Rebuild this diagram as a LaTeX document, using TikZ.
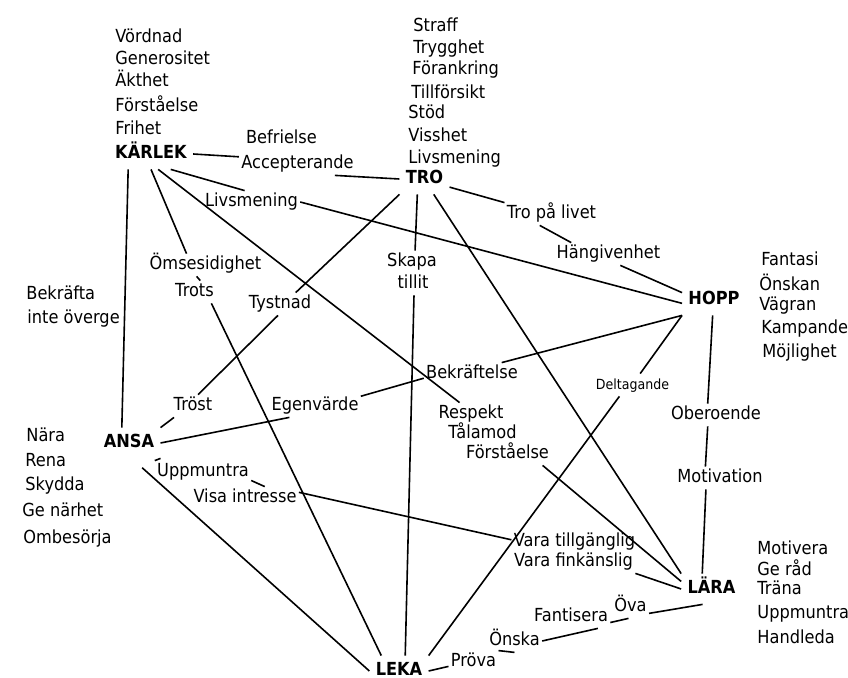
\documentclass[tikz,border=0pt]{standalone}
\usepackage{fontspec}
\setmainfont[FakeStretch=0.9]{DejaVu Sans}
\tikzset{
  ord/.style={font=\fontsize{9}{11}\selectfont, inner sep=1pt, text height=7pt, text depth=2pt},
  liten/.style={ord, font=\fontsize{7}{9}\selectfont},
  huvud/.style={ord, font=\fontsize{9}{11}\selectfont\bfseries, inner sep=3pt},
  band/.style={line width=0.8pt}
}
\begin{document}
\begin{tikzpicture}[x=0.5pt, y=-0.5pt]
  \useasboundingbox (0,0) rectangle (848,678);

  % Main words
  \node[huvud] (karlek) at (151,154) {KÄRLEK};
  \node[huvud] (tro) at (424.5,179) {TRO};
  \node[huvud] (hopp) at (714,300) {HOPP};
  \node[huvud] (ansa) at (129,443) {ANSA};
  \node[huvud] (leka) at (399,671) {LEKA};
  \node[huvud] (lara) at (711.5,589) {LÄRA};

  % Word lists next to the main words
  \foreach \x/\y/\txt [count=\i] in {113/38/Vördnad, 113/60/Generositet, 113/82/Äkthet,
      113/107/Förståelse, 113/130/Frihet}
    \node[ord, anchor=west] (karlek\i) at (\x,\y) {\txt};
  \foreach \x/\y/\txt [count=\i] in {411/27/Straff, 411/49/Trygghet, 410/70/Förankring,
      409/94/Tillförsikt, 406/114/Stöd, 406/137/Visshet, 406/159/Livsmening}
    \node[ord, anchor=west] (tro\i) at (\x,\y) {\txt};
  \foreach \x/\y/\txt [count=\i] in {759/261/Fantasi, 757/286/Önskan, 757/306/Vägran,
      759/329/Kampande, 760/353/Möjlighet}
    \node[ord, anchor=west] (hopp\i) at (\x,\y) {\txt};
  \foreach \x/\y/\txt [count=\i] in {24/437/Nära, 23/462/Rena, 23/486/Skydda,
      20/512/Ge närhet, 21/539/Ombesörja}
    \node[ord, anchor=west] (ansa\i) at (\x,\y) {\txt};
  \foreach \x/\y/\txt [count=\i] in {755/550/Motivera, 755/571/Ge råd, 755/590/Träna,
      755/614/Uppmuntra, 755/639/Handleda}
    \node[ord, anchor=west] (lara\i) at (\x,\y) {\txt};
  \node[ord, anchor=west] (bekrafta) at (24,295) {Bekräfta};
  \node[ord, anchor=west] (overge) at (25,319) {inte överge};

  % Words along the lines
  \node[ord] (befr) at (281.5,139) {Befrielse};
  \node[ord] (acc) at (297.5,164) {Accepterande};
  \node[ord] (livs) at (251.5,202) {Livsmening};
  \node[ord] (trop) at (551.5,214) {Tro på livet};
  \node[ord] (hang) at (608.5,254) {Hängivenhet};
  \node[ord] (omse) at (205.5,265) {Ömsesidighet};
  \node[ord] (trots) at (194.5,292) {Trots};
  \node[ord] (tyst) at (280,304) {Tystnad};
  \node[ord] (skapa) at (412,262) {Skapa};
  \node[ord] (till) at (413,284) {tillit};
  \node[ord] (trost) at (193,406) {Tröst};
  \node[ord] (egen) at (315,406) {Egenvärde};
  \node[ord] (bekr) at (472,374) {Bekräftelse};
  \node[ord] (resp) at (471,414) {Respekt};
  \node[ord] (tal) at (482.5,434) {Tålamod};
  \node[ord] (forst) at (507.5,454) {Förståelse};
  \node[liten] (delt) at (632.5,385) {Deltagande};
  \node[ord] (ober) at (716,415) {Oberoende};
  \node[ord] (motiv) at (720,478) {Motivation};
  \node[ord] (uppm) at (203,472) {Uppmuntra};
  \node[ord] (visa) at (245,498) {Visa intresse};
  \node[ord] (varat) at (574.5,542) {Vara tillgänglig};
  \node[ord] (varaf) at (573.5,562) {Vara finkänslig};
  \node[ord] (prova) at (473.5,662) {Pröva};
  \node[ord] (onska) at (514.5,641) {Önska};
  \node[ord] (fant) at (571,617) {Fantisera};
  \node[ord] (ova) at (630.5,607) {Öva};

  % Lines from KÄRLEK
  \draw[band] (karlek.east) -- (acc.173);
  \draw[band] (acc.-17) -- (tro.west);
  \draw[band] (karlek.-38) -- (livs.121);
  \draw[band] (livs.east) -- (hopp.-174);
  \draw[band] (karlek.-146) -- (ansa.115);
  \draw[band] (karlek.south) -- (omse.149);
  \draw[band] (omse.-128) -- (trots.63);
  \draw[band] (trots.-34) -- (leka.139);
  \draw[band] (karlek.-65) -- (resp.135);
  \draw[band] (forst.-18) -- (lara.166);

  % Lines from TRO
  \draw[band] (tro.-18) -- (trop.north west);
  \draw[band] (trop.-136) -- (hang.163);
  \draw[band] (hang.-44) -- (hopp.167);
  \draw[band] (tro.south west) -- (tyst.36);
  \draw[band] (tyst.-100) -- (trost.66);
  \draw[band] (trost.-149) -- (ansa.north east);
  \draw[band] (tro.-115) -- (skapa.75);
  \draw[band] (till.-85) -- (leka.68);
  \draw[band] (tro.-59) -- (lara.north west);

  % Lines from HOPP
  \draw[band] (hopp.south west) -- (bekr.21);
  \draw[band] (bekr.-175) -- (egen.12);
  \draw[band] (egen.-156) -- (ansa.east);
  \draw[band] (hopp.south west) -- (delt.56);
  \draw[band] (delt.-139) -- (leka.north east);
  \draw[band] (hopp.-95) -- (ober.126);
  \draw[band] (ober.-126) -- (motiv.142);
  \draw[band] (motiv.-141) -- (lara.121);

  % Lines from ANSA
  \draw[band] (ansa.south east) -- (uppm.north west);
  \draw[band] (uppm.-10) -- (visa.30);
  \draw[band] (visa.6) -- (varat.178);
  \draw[band] (varaf.south east) -- (lara.west);
  \draw[band, shorten <=7pt] (ansa.-80) -- (leka.west);

  % Lines from LEKA
  \draw[band] (leka.east) -- (prova.-170);
  \draw[band] (prova.north east) -- (onska.-90);
  \draw[band] (onska.east) -- (fant.-23);
  \draw[band] (fant.-8) -- (ova.-100);
  \draw[band] (ova.-19) -- (lara.-120);
\end{tikzpicture}
\end{document}
